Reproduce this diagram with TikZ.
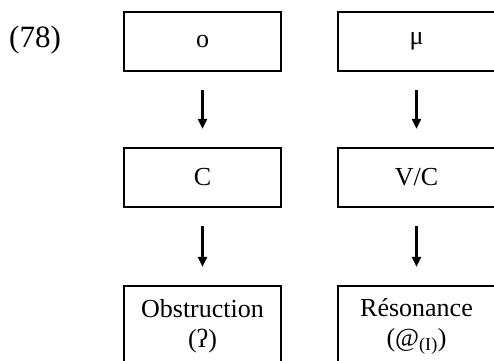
\documentclass[tikz,border=0pt]{standalone}
\usepackage{fontspec}
\setmainfont{Liberation Serif}
\usetikzlibrary{arrows.meta,positioning}

\begin{document}
\begin{tikzpicture}[x=1pt,y=-1pt,
  stage/.style={draw,line width=1.2pt,minimum width=157pt,minimum height=59pt,inner sep=0pt,font=\fontsize{26}{30}\selectfont,align=center},
  outcome/.style={stage,minimum height=80pt},
  flow/.style={-{Triangle[width=9pt,length=10pt]},line width=2.6pt,shorten <=18.5pt,shorten >=18.5pt}]
  \useasboundingbox (0,0) rectangle (494,360);
  \clip (0,0) rectangle (494,360);
  % Example number
  \node[anchor=west,inner sep=0pt,font=\fontsize{31}{36}\selectfont] (num) at (9,40) {(78)};
  % Left column
  \node[stage] (o) at (202.5,41.5) {o};
  \node[stage] (c) at (202.5,177.5) {C};
  \node[outcome] (obs) at (202.5,326) {Obstruction\\(ʔ)};
  % Right column
  \node[stage] (mu) at (416.5,41.5) {μ};
  \node[stage] (vc) at (416.5,177.5) {V/C};
  \node[outcome] (res) at (416.5,326) {Résonance\\(@\textsubscript{(I)})};
  % Arrows
  \foreach \a/\b in {o/c,c/obs,mu/vc,vc/res} \draw[flow] (\a) -- (\b);
\end{tikzpicture}
\end{document}
